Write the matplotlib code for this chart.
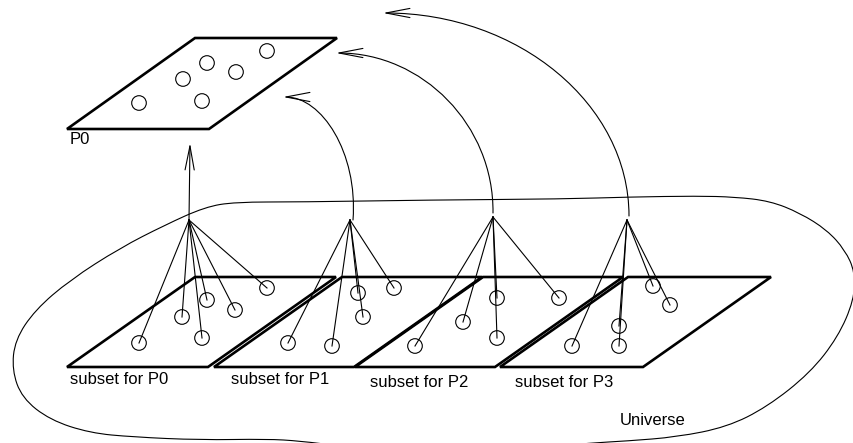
import numpy as np
import matplotlib.pyplot as plt
from matplotlib.path import Path
from matplotlib.patches import Circle, Polygon, PathPatch, FancyArrowPatch

plt.rcParams['font.family'] = ['Liberation Sans', 'DejaVu Sans']

# everything is in pixel units of the sketch (x to the right, y down)

# top plane "P0" and its points
p0_left, p0_right = 67, 209
p0_top, p0_bottom = 38, 129
p0_pts_x = [139, 183, 207, 236, 267, 202]
p0_pts_y = [103, 79, 63, 72, 51, 101]

# the four subset planes (bottom-left / bottom-right corner x)
plane_left = [67, 214, 355, 500]
plane_right = [208, 354, 495, 643]
plane_top, plane_bottom = 277, 367
skew = 128

subset_labels = ["subset for P0", "subset for P1", "subset for P2", "subset for P3"]
label_x = [70, 231, 370, 515]
label_y = [384, 384, 387, 387]

# hub of each subset and the points it collects
hub_x = [189, 350, 493, 627]
hub_y = [220, 220, 217, 220]
pts_x = [[139, 182, 202, 207, 235, 267],
         [288, 332, 358, 363, 394],
         [415, 463, 497, 497, 559],
         [572, 619, 619, 653, 670]]
pts_y = [[343, 317, 338, 300, 310, 288],
         [343, 346, 293, 317, 288],
         [346, 322, 298, 338, 298],
         [346, 326, 346, 286, 305]]

# return arcs P1..P3 -> P0 (start near hub, tip at left)
arc_start_x = [353, 493, 629]
arc_start_y = [220, 213, 216]
arc_end_x = [283, 336, 383]
arc_end_y = [97, 53, 13]
arc_bulge = [358, 494, 629]

# the "Universe" outline
universe_x = [205, 235, 300, 430, 563, 630, 697, 735, 770, 800, 827, 845, 855, 854,
              838, 810, 767, 727, 677, 627, 590, 540, 440, 340, 300, 267, 200, 133,
              90, 50, 22, 12, 15, 35, 70, 120, 165]
universe_y = [207, 202, 202, 200, 199, 197, 196, 197, 201, 213, 230, 250, 272, 300,
              337, 373, 407, 427, 437, 441, 443, 448, 452, 446, 441, 439, 440, 437,
              433, 420, 398, 370, 340, 310, 280, 248, 225]

fig = plt.figure(figsize=(8.54, 4.43), dpi=100)
ax = fig.add_axes([0, 0, 1, 1])
ax.set_xlim(0, 854)
ax.set_ylim(443, 0)
ax.axis('off')

thin = 0.8
thick = 1.9
head = '->,head_length=1.15,head_width=0.22'

# universe: closed quadratic spline through the midpoints
pts = np.column_stack([universe_x, universe_y]).astype(float)
n = len(pts)
mids = (pts + np.roll(pts, -1, axis=0)) / 2
verts = [mids[0]]
codes = [Path.MOVETO]
for i in range(1, n + 1):
    verts += [pts[i % n], mids[i % n]]
    codes += [Path.CURVE3, Path.CURVE3]
ax.add_patch(PathPatch(Path(verts, codes), fill=False, lw=thin, color='black'))

# top plane
ax.add_patch(Polygon([(p0_left, p0_bottom), (p0_right, p0_bottom),
                      (p0_right + skew, p0_top), (p0_left + skew, p0_top)],
                     closed=True, fill=False, lw=thick, ec='black', joinstyle='miter'))
for x, y in zip(p0_pts_x, p0_pts_y):
    ax.add_patch(Circle((x, y), 7.3, fill=False, lw=thin, ec='black'))
ax.text(70, 144, "P0", fontsize=12, va='baseline')

# subset planes
for i in range(4):
    l, r = plane_left[i], plane_right[i]
    ax.add_patch(Polygon([(l, plane_bottom), (r, plane_bottom),
                          (r + skew, plane_top), (l + skew, plane_top)],
                         closed=True, fill=False, lw=thick, ec='black', joinstyle='miter'))
    ax.text(label_x[i], label_y[i], subset_labels[i], fontsize=12, va='baseline')

# points and fan lines to the hubs
for i in range(4):
    for x, y in zip(pts_x[i], pts_y[i]):
        ax.plot([hub_x[i], x], [hub_y[i], y], color='black', lw=thin)
        ax.add_patch(Circle((x, y), 7.3, fill=False, lw=thin, ec='black'))

# straight arrow from subset P0 up to P0
ax.add_patch(FancyArrowPatch((hub_x[0], hub_y[0]), (190, 143),
                             arrowstyle=head, mutation_scale=15,
                             shrinkA=0, shrinkB=0, lw=thin, color='black'))

# curved arrows
k = 0.55
for i in range(3):
    sx, sy = arc_start_x[i], arc_start_y[i]
    ex, ey = arc_end_x[i], arc_end_y[i]
    c1 = (arc_bulge[i], sy - k * (sy - ey))
    c2 = (ex + k * (sx - ex), ey)
    path = Path([(sx, sy), c1, c2, (ex, ey)],
                [Path.MOVETO, Path.CURVE4, Path.CURVE4, Path.CURVE4])
    ax.add_patch(FancyArrowPatch(path=path, arrowstyle=head, mutation_scale=15,
                                 lw=thin, color='black'))

ax.text(620, 425, "Universe", fontsize=12, va='baseline')

fig.savefig("out.png", dpi=100)
